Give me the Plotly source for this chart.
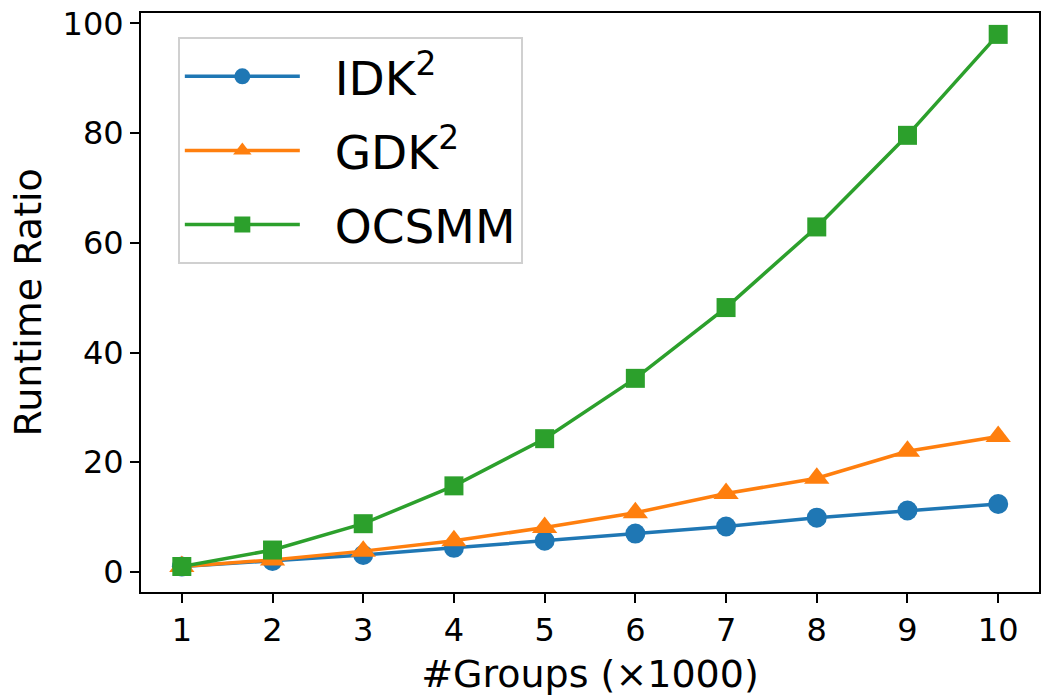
import plotly.graph_objects as go

groups = [1, 2, 3, 4, 5, 6, 7, 8, 9, 10]
idk2 = [1.0, 2.0, 3.1, 4.4, 5.7, 7.0, 8.3, 9.9, 11.2, 12.4]
gdk2 = [1.0, 2.2, 3.8, 5.7, 8.1, 10.8, 14.3, 17.1, 22.0, 24.7]
ocsmm = [1.0, 4.0, 8.8, 15.7, 24.3, 35.3, 48.2, 62.9, 79.6, 98.0]

series = [
    ("IDK<sup>2</sup>", idk2, "#1f77b4", "circle", 20),
    ("GDK<sup>2</sup>", gdk2, "#ff7f0e", "triangle-up", 22),
    ("OCSMM", ocsmm, "#2ca02c", "square", 19),
]

fig = go.Figure()
for name, vals, color, symbol, msize in series:
    fig.add_trace(go.Scatter(
        x=groups, y=vals, mode="lines+markers",
        name="\u00a0\u00a0" + name, legendgroup=name,
        line=dict(color=color, width=3.5),
        marker=dict(color=color, symbol=symbol, size=msize),
    ))

axis_style = dict(
    showgrid=False, zeroline=False, showline=True, linecolor="black",
    linewidth=2, mirror=True, ticks="outside", ticklen=9, tickwidth=2,
    tickcolor="black", tickfont=dict(size=32, color="black"),
    automargin=False, ticklabeloverflow="allow",
)

# y title as annotation so it can sit close to the page edge
fig.add_annotation(text="Runtime Ratio", xref="paper", yref="paper", x=0, y=0.5,
                   xanchor="center", yanchor="middle", xshift=-114, textangle=-90,
                   showarrow=False, font=dict(size=38))

# the page body adds an 8px offset, so the figure is 8px smaller than the window
fig.update_layout(
    width=1043, height=690,
    font=dict(family="DejaVu Sans", color="black"),
    plot_bgcolor="white", paper_bgcolor="white",
    margin=dict(l=133, r=12, t=5, b=106),
    xaxis=dict(title=dict(text="#Groups (×1000)", font=dict(size=38), standoff=12),
               range=[0.55, 10.45], tickvals=groups, **axis_style),
    yaxis=dict(range=[-3.65, 101.9], tickvals=[0, 20, 40, 60, 80, 100], **axis_style),
    legend=dict(
        x=0.041, y=0.958, xanchor="left", yanchor="top",
        bgcolor="rgba(255,255,255,0.8)", bordercolor="#d0d0d0", borderwidth=2,
        font=dict(size=47), tracegroupgap=10, itemsizing="trace", itemwidth=115,
    ),
)

fig.write_html("out.html")
